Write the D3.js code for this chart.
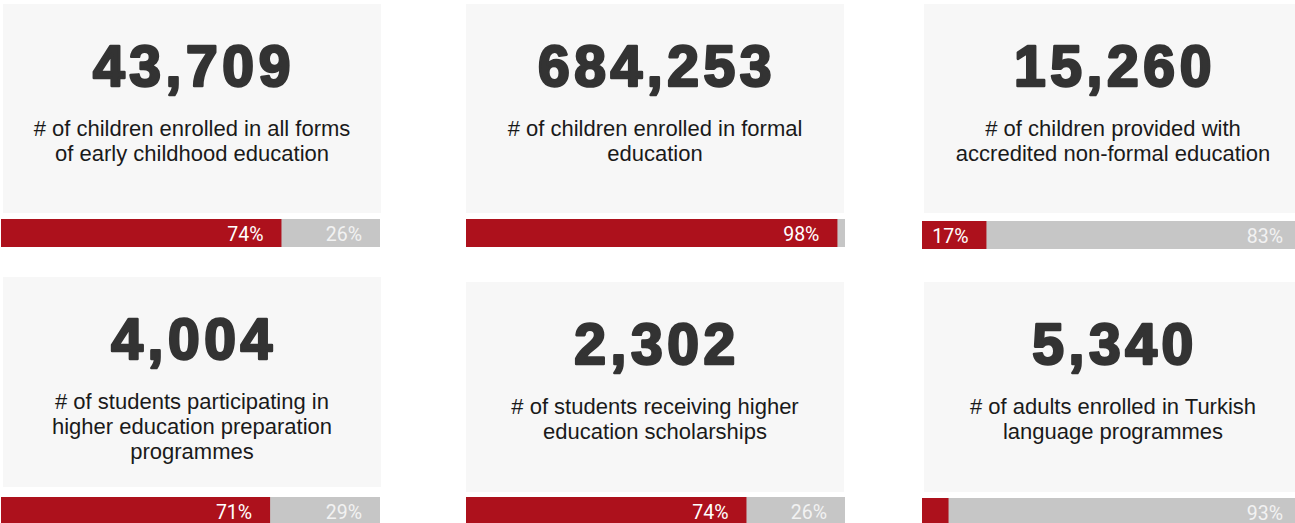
<!DOCTYPE html>
<html lang="en">
<head>
  <meta charset="utf-8"/>
  <title>Education indicators</title>
  <script src="https://d3js.org/d3.v7.min.js"></script>
  <style>
    body { margin: 0; background: #fff; }
    svg { display: block; }
    .big { font-family: "Liberation Sans", Arial, sans-serif; font-weight: bold; fill: #333; stroke: #333; stroke-width: 2.6; stroke-linejoin: round; letter-spacing: 4.6px; }
    .desc { font-family: "Liberation Sans", Arial, sans-serif; font-size: 22px; fill: #1a1a1a; }
    .pct { font-family: Roboto, sans-serif; font-size: 19.5px; }
  </style>
</head>
<body>
<div id="chart"></div>
<script>
  // values
  var totals = [43709, 684253, 15260, 4004, 2302, 5340];
  var captions = [
    ["# of children enrolled in all forms", "of early childhood education"],
    ["# of children enrolled in formal", "education"],
    ["# of children provided with", "accredited non-formal education"],
    ["# of students participating in", "higher education preparation", "programmes"],
    ["# of students receiving higher", "education scholarships"],
    ["# of adults enrolled in Turkish", "language programmes"]
  ];
  var shares = [74, 98, 17, 71, 74, 7];

  // layout (pixel positions of the tiles)
  var width = 1295, height = 523;
  var cardX = [3, 466, 924, 3, 466, 924];
  var barX = [1, 466, 922, 1, 466, 922];
  var cardTop = [4, 4, 4, 277, 282, 282];
  var cardH = [209, 209, 209, 210, 210, 210];
  var barTop = [219, 219, 221, 497, 497, 498];
  var cardW = 378, barW = 379, barH = 28;

  var x = d3.scaleLinear().domain([0, 100]).range([0, barW]);
  var fmt = d3.format(",");

  var svg = d3.select('#chart').append('svg')
      .attr('width', width)
      .attr('height', height);

  var tiles = svg.selectAll('g.tile')
      .data(totals.map(function(t, i) { return { total: t, lines: captions[i], share: shares[i], i: i }; }))
      .enter().append('g')
      .attr('class', 'tile');

  tiles.append('rect')
      .attr('x', function(d) { return cardX[d.i]; })
      .attr('y', function(d) { return cardTop[d.i]; })
      .attr('width', cardW)
      .attr('height', function(d) { return cardH[d.i]; })
      .attr('fill', '#f7f7f7');

  tiles.append('text')
      .attr('class', 'big')
      .attr('x', function(d) { return cardX[d.i] + cardW / 2 + 2; })
      .attr('y', function(d) { return cardTop[d.i] + 82; })
      .attr('text-anchor', 'middle')
      .attr('font-size', 57)
      .text(function(d) { return fmt(d.total); });

  tiles.each(function(d) {
    var g = d3.select(this);
    d.lines.forEach(function(line, k) {
      g.append('text')
        .attr('class', 'desc')
        .attr('x', cardX[d.i] + cardW / 2)
        .attr('y', cardTop[d.i] + 132 + k * 25)
        .attr('text-anchor', 'middle')
        .text(line);
    });

    var bx = barX[d.i], by = barTop[d.i];
    var redW = x(d.share), greyW = x(100 - d.share);

    g.append('rect')
      .attr('x', bx).attr('y', by)
      .attr('width', barW).attr('height', barH)
      .attr('fill', '#c6c6c6');
    g.append('rect')
      .attr('x', bx).attr('y', by)
      .attr('width', redW).attr('height', barH)
      .attr('fill', '#ad111c');

    if (redW > 45) {
      g.append('text')
        .attr('class', 'pct')
        .attr('x', bx + redW - 18)
        .attr('y', by + 21.5)
        .attr('text-anchor', 'end')
        .attr('fill', '#fff')
        .text(d.share + '%');
    }
    if (greyW > 45) {
      g.append('text')
        .attr('class', 'pct')
        .attr('x', bx + barW - 18)
        .attr('y', by + 21.5)
        .attr('text-anchor', 'end')
        .attr('fill', '#f2f2f2')
        .text((100 - d.share) + '%');
    }
  });
</script>
</body>
</html>
